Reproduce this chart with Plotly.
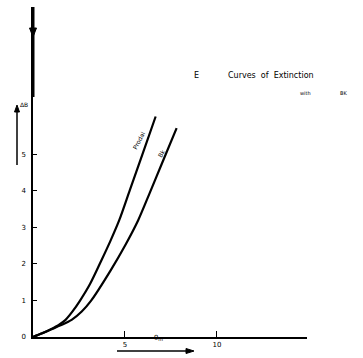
import plotly.graph_objects as go

# Curve data (theta_m vs delta B)
prodal_x = [0, 0.5, 1.0, 1.4, 1.77, 2.15, 2.55, 3.1, 3.73, 4.2, 4.69, 5.27, 5.95, 6.67]
prodal_y = [0, 0.10, 0.22, 0.33, 0.47, 0.70, 0.99, 1.45, 2.11, 2.62, 3.2, 4.03, 5.0, 6.04]
bk_x = [0, 0.5, 1.0, 1.5, 2.10, 2.65, 3.15, 4.24, 5.0, 5.72, 6.35, 7.05, 7.81]
bk_y = [0, 0.10, 0.21, 0.32, 0.47, 0.70, 0.99, 1.84, 2.5, 3.2, 3.95, 4.8, 5.72]

y_ticks = [0, 1, 2, 3, 4, 5]
x_ticks = [5, 10]
x_tick_labels = ["5", "10"]

W, H = 363, 358
L, R, T, B = 33, 56, 7, 21
xr = [0, 14.9]
yr = [0, 9.04]

fig = go.Figure()
fig.add_trace(go.Scatter(x=prodal_x, y=prodal_y, mode="lines",
                         line=dict(color="black", width=2.2, shape="spline", smoothing=0.8),
                         hoverinfo="skip"))
fig.add_trace(go.Scatter(x=bk_x, y=bk_y, mode="lines",
                         line=dict(color="black", width=2.2, shape="spline", smoothing=0.8),
                         hoverinfo="skip"))

font = dict(family="DejaVu Sans", size=8, color="black")

fig.update_layout(
    width=W, height=H,
    margin=dict(l=L, r=R, t=T, b=B, pad=0, autoexpand=False),
    paper_bgcolor="white", plot_bgcolor="white",
    showlegend=False,
    font=font,
    xaxis=dict(range=xr, showgrid=False, zeroline=False, showline=True,
               linecolor="black", linewidth=1.5, ticks="inside", ticklen=6,
               tickwidth=1.2, tickcolor="black", tickvals=x_ticks,
               ticktext=x_tick_labels, tickfont=dict(family="DejaVu Sans", size=7, color="black"),
               automargin=False, fixedrange=True),
    yaxis=dict(range=yr, showgrid=False, zeroline=False, showline=True,
               linecolor="black", linewidth=1.5, ticks="inside", ticklen=4,
               tickwidth=1, tickcolor="black", tickvals=y_ticks,
               tickfont=dict(family="DejaVu Sans", size=7, color="black"),
               ticklabelstandoff=4, automargin=False, fixedrange=True),
)

PW = W - L - R
PH = H - T - B

def px(xp):
    return (xp - L) / PW

def py(yp):
    return 1 - (yp - T) / PH

def seg(x0, y0, x1, y1, w):
    fig.add_shape(type="line", xref="paper", yref="paper",
                  x0=px(x0), y0=py(y0), x1=px(x1), y1=py(y1),
                  line=dict(color="black", width=w))

def tri(pts):
    d = "M " + " L ".join(f"{px(a)},{py(b)}" for a, b in pts) + " Z"
    fig.add_shape(type="path", xref="paper", yref="paper", path=d,
                  fillcolor="black", line=dict(color="black", width=1))

# thicker upper portion of the vertical axis with a downward arrowhead
seg(L, 7, L, 97, 3)
tri([(L - 3.5, 28), (L + 3.5, 28), (L, 37)])

# Delta B label with upward arrow
seg(17, 165, 17, 110, 1.5)
tri([(14.5, 112), (19.5, 112), (17, 105)])
fig.add_annotation(xref="paper", yref="paper", x=px(18), y=py(99), text="ΔB",
                   showarrow=False, font=dict(family="DejaVu Sans", size=6, color="black"))

# theta_m label with rightward arrow
fig.add_annotation(xref="paper", yref="paper", x=px(158), y=py(344), text="θ<sub>m</sub>",
                   showarrow=False, font=dict(family="DejaVu Sans", size=7, color="black"))
seg(117, 351, 188, 351, 1.3)
tri([(186, 348.5), (186, 353.5), (194, 351)])

# title text
fig.add_annotation(xref="paper", yref="paper", x=px(196), y=py(69),
                   text="E", showarrow=False, font=dict(family="DejaVu Sans", size=8, color="black"))
fig.add_annotation(xref="paper", yref="paper", x=px(226), y=py(69),
                   text="Curves  of  Extinction", showarrow=False, xanchor="left",
                   font=dict(family="DejaVu Sans", size=8, color="black"))
fig.add_annotation(xref="paper", yref="paper", x=px(313), y=py(88),
                   text="with", showarrow=False,
                   font=dict(family="DejaVu Sans", size=5, color="black"))
fig.add_annotation(xref="paper", yref="paper", x=px(349), y=py(88),
                   text="BK", showarrow=False,
                   font=dict(family="DejaVu Sans", size=5, color="black"))

# curve labels
fig.add_annotation(xref="paper", yref="paper", x=px(139), y=py(141), text="Prodal", showarrow=False,
                   textangle=-62, font=dict(family="DejaVu Sans", size=6, color="black"))
fig.add_annotation(xref="paper", yref="paper", x=px(161), y=py(153), text="Bk", showarrow=False,
                   textangle=-60, font=dict(family="DejaVu Sans", size=6, color="black"))

fig.write_html("out.html", config={"displayModeBar": False},
               post_script="document.body.style.margin='0';document.body.style.overflow='hidden';")
